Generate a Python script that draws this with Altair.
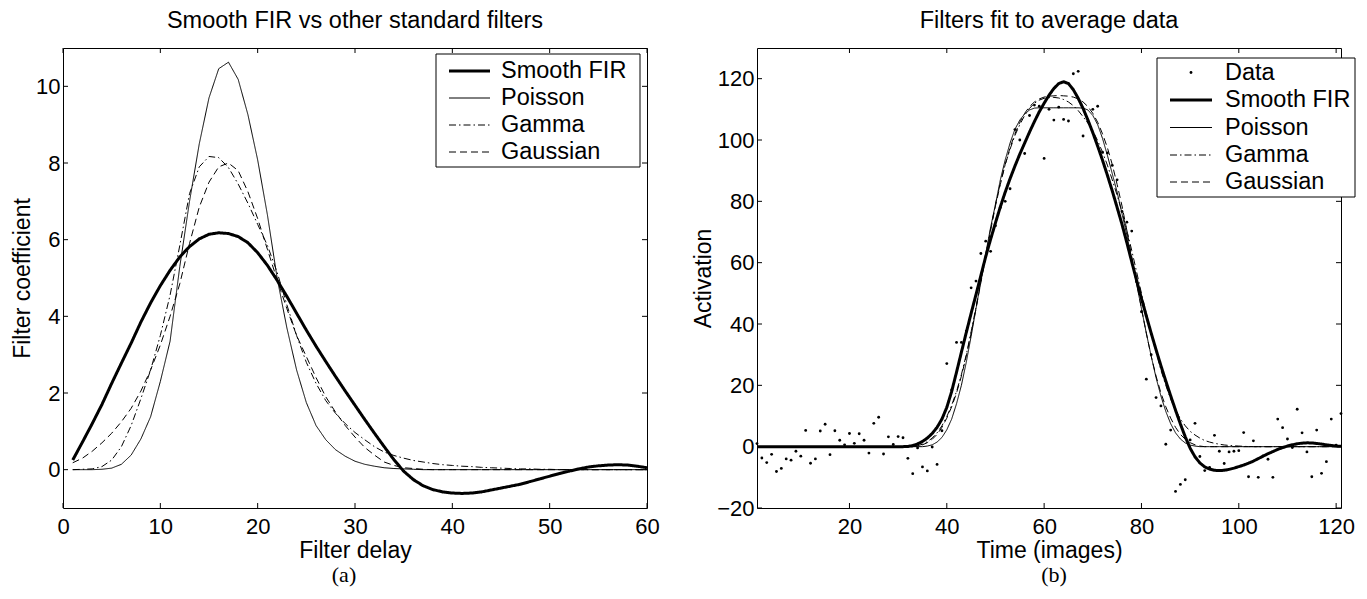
import altair as alt
import pandas as pd

# ---------------- Panel (a): filter shapes ----------------
delay = list(range(1, 61))
fir_a = [0.25, 0.72, 1.2, 1.7, 2.25, 2.78, 3.3, 3.85, 4.35, 4.8,
         5.2, 5.55, 5.82, 6.02, 6.14, 6.18, 6.16, 6.08, 5.92, 5.66,
         5.33, 4.94, 4.52, 4.08, 3.64, 3.22, 2.82, 2.43, 2.05, 1.68,
         1.31, 0.95, 0.6, 0.26, -0.04, -0.26, -0.42, -0.52, -0.58, -0.61,
         -0.62, -0.61, -0.58, -0.53, -0.48, -0.43, -0.38, -0.31, -0.24, -0.17,
         -0.1, -0.04, 0.02, 0.07, 0.1, 0.12, 0.13, 0.12, 0.09, 0.05]
poisson_a = [0, 0, 0, 0.01, 0.04, 0.14, 0.38, 0.8, 1.38, 2.3,
             3.35, 5.3, 7.0, 8.5, 9.7, 10.46, 10.63, 10.18, 9.26, 8.08,
             6.65, 5.0, 3.7, 2.6, 1.75, 1.15, 0.78, 0.52, 0.35, 0.22,
             0.14, 0.09, 0.05, 0.03, 0.02, 0.01, 0, 0, 0, 0,
             0, 0, 0, 0, 0, 0, 0, 0, 0, 0,
             0, 0, 0, 0, 0, 0, 0, 0, 0, 0]
gamma_a = [0, 0.01, 0.02, 0.08, 0.25, 0.6, 1.15, 1.85, 2.6, 3.5,
           4.55, 5.85, 7.2, 7.9, 8.17, 8.14, 7.88, 7.45, 6.95, 6.4,
           5.85, 5.15, 4.3, 3.5, 2.8, 2.25, 1.8, 1.47, 1.2, 0.97,
           0.78, 0.6, 0.46, 0.37, 0.3, 0.24, 0.2, 0.16, 0.13, 0.11,
           0.09, 0.08, 0.06, 0.05, 0.04, 0.03, 0.02, 0.02, 0.01, 0.01,
           0, 0, 0, 0, 0, 0, 0, 0, 0, 0]
gauss_a = [0.18, 0.3, 0.48, 0.7, 0.95, 1.25, 1.6, 2.05, 2.6, 3.25,
           4.0, 4.85, 5.9, 6.85, 7.5, 7.9, 8.0, 7.8, 7.25, 6.55,
           5.75, 4.95, 4.2, 3.5, 2.95, 2.4, 1.9, 1.5, 1.15, 0.85,
           0.58, 0.38, 0.2, 0.11, 0.05, 0.03, 0.01, 0, 0, 0,
           0, 0, 0, 0, 0, 0, 0, 0, 0, 0,
           0, 0, 0, 0, 0, 0, 0, 0, 0, 0]

# ---------------- Panel (b): fits to average data ----------------
time_b = list(range(1, 122))
data_b = [1.0, -3.7, -5.2, -2.5, -8.1, -7.1, -4.0, -4.4, -1.5, -3.1,
          5.3, -5.4, -4.0, 5.1, 7.3, -2.6, 5.2, 2.1, 0.6, 4.3,
          1.1, 4.2, 2.1, -2.1, 7.6, 9.6, -2.4, 3.2, 0.7, 3.3,
          2.9, -3.8, -8.8, -0.4, -6.6, -7.9, -0.1, -5.8, 5.2, 27.1,
          18.5, 34.0, 34.0, 37.7, 51.8, 54.0, 63.0, 67.0, 63.7, 72.0,
          78.0, 80.0, 84.1, 103.4, 100.0, 95.6, 108.0, 111.4, 111.0, 94.0,
          110.0, 106.5, 110.7, 106.7, 106.2, 121.6, 122.4, 101.3, 106.1, 110.0,
          111.0, 96.0, 95.8, 91.7, 87.0, 76.7, 73.2, 70.3, 53.8, 44.0,
          22.0, 30.0, 16.0, 13.3, 0.8, 5.4, -14.6, -12.3, -10.8, 2.2,
          7.6, -3.2, -7.8, -6.8, 3.7, -1.5, -5.5, -1.7, -1.5, -1.3,
          4.6, -9.8, 1.9, -10.0, -3.0, -4.1, -10.0, 9.0, 6.2, 2.5,
          -0.3, 12.2, 4.5, -1.7, -9.8, 5.4, -8.7, -4.9, 9.0, 0.5,
          10.8]
fir_b = [0] * 31 + [
    0.08, 0.35, 0.9, 1.7, 2.8, 4.3, 6.3, 9.0, 12.8, 18.0,
    24.3, 30.8, 37.2, 43.5, 49.6, 55.8, 62.0, 67.6, 73.0, 78.2,
    83.0, 87.4, 91.5, 95.4, 99.0, 102.6, 106.0, 109.2, 112.0, 114.6,
    116.8, 118.4, 119.0, 118.4, 116.4, 113.6, 110.3, 106.5, 102.4, 98.0,
    93.4, 88.5, 83.4, 78.0, 72.5, 66.5, 60.3, 54.2, 48.3, 42.6,
    37.0, 31.6, 26.4, 21.4, 16.6, 11.9, 7.4, 3.2, -0.5, -3.3,
    -5.3, -6.6, -7.3, -7.7, -7.8, -7.7, -7.4, -7.0, -6.5, -6.0,
    -5.4, -4.7, -3.9, -3.1, -2.3, -1.6, -0.9, -0.3, 0.2, 0.6,
    0.95, 1.15, 1.25, 1.2, 1.05, 0.85, 0.6, 0.4, 0.2, 0.1]
poisson_b = [0] * 35 + [
    0.2, 0.6, 1.5, 3.0, 5.5, 9.0, 14.0, 20.0, 27.5, 36.0,
    45.0, 54.0, 63.0, 71.5, 79.0, 87.0, 93.5, 99.0, 103.5, 106.5,
    108.5, 109.8, 110.4, 110.5, 110.5, 110.5, 110.5, 110.5, 110.5, 110.5,
    110.5, 110.5, 110.4, 109.8, 108.0, 105.0, 100.5, 95.0, 89.0, 83.0,
    76.0, 69.0, 61.0, 53.0, 45.0, 37.0, 29.5, 22.5, 16.5, 11.5,
    7.5, 4.5, 2.5, 1.2, 0.5, 0.2] + [0] * 30
gamma_b = [0] * 33 + [
    0.3, 0.8, 1.6, 2.8, 4.5, 6.8, 9.8, 13.5, 18.0, 23.5,
    30.0, 37.5, 45.5, 54.0, 62.5, 71.0, 79.0, 86.0, 92.0, 97.0,
    101.5, 105.0, 108.0, 110.3, 112.0, 113.0, 113.6, 113.8, 113.9, 113.7,
    113.2, 112.4, 111.2, 109.6, 107.6, 105.5, 103.0, 99.8, 96.0, 91.8,
    87.0, 82.0, 76.5, 70.5, 64.0, 57.0, 50.0, 43.5, 37.0, 31.0,
    25.0, 20.0, 15.5, 12.0, 9.0, 6.8, 5.0, 3.8, 2.8, 2.0,
    1.5, 1.1, 0.8, 0.55, 0.4, 0.28, 0.2, 0.1, 0.05] + [0] * 19
gauss_b = [0] * 33 + [
    0.2, 0.6, 1.3, 2.4, 4.0, 6.3, 9.3, 13.0, 17.5, 23.0,
    29.5, 37.0, 45.0, 53.5, 62.0, 70.5, 78.5, 85.5, 92.0, 97.5,
    102.0, 105.8, 108.7, 110.9, 112.4, 113.4, 114.0, 114.3, 114.4, 114.5,
    114.4, 114.3, 114.0, 113.4, 112.4, 110.9, 108.7, 105.8, 102.0, 97.5,
    92.0, 85.5, 78.5, 70.5, 62.0, 53.5, 45.0, 37.0, 29.5, 23.0,
    17.5, 13.0, 9.3, 6.3, 4.0, 2.4, 1.3, 0.6, 0.2] + [0] * 29

# tick values
xticks_a = [0, 10, 20, 30, 40, 50, 60]
yticks_a = [0, 2, 4, 6, 8, 10]
xticks_b = [20, 40, 60, 80, 100, 120]
yticks_b = [-20, 0, 20, 40, 60, 80, 100, 120]

series_a = ["Smooth FIR", "Poisson", "Gamma", "Gaussian"]
series_b = ["Data", "Smooth FIR", "Poisson", "Gamma", "Gaussian"]

# ---------------- styles ----------------
FONT = "Liberation Sans"
W, H = 584, 460
STYLE = {
    "Smooth FIR": dict(strokeWidth=3, strokeDash=[1, 0]),
    "Poisson": dict(strokeWidth=1, strokeDash=[1, 0]),
    "Gamma": dict(strokeWidth=1, strokeDash=[7, 3, 1.5, 3]),
    "Gaussian": dict(strokeWidth=1, strokeDash=[7, 4]),
}


def axis_x(values, title):
    return alt.Axis(values=values, ticks=False, tickSize=0, domain=False, grid=False,
                    labelFontSize=22, labelPadding=8, labelFlush=False, labelOverlap=False,
                    title=title, titleFontSize=23, titleFontWeight="normal", titlePadding=2,
                    labelFont=FONT, titleFont=FONT, labelColor="black", titleColor="black")


def axis_y(values, title):
    return alt.Axis(values=values, ticks=False, tickSize=0, domain=False, grid=False,
                    labelFontSize=22, labelPadding=3, labelFlush=False, labelOverlap=False,
                    title=title, titleFontSize=23, titleFontWeight="normal", titlePadding=1,
                    labelFont=FONT, titleFont=FONT, labelColor="black", titleColor="black")


def one_row(label=""):
    return pd.DataFrame({"label": [label]})


def panel(xs, ys, curves, dots, xt, yt, xtitle, ytitle, title,
          legend_names, box, sample_x, label_x, rows, caption, caption_x):
    xscale = alt.Scale(domain=xs, nice=False, zero=False)
    yscale = alt.Scale(domain=ys, nice=False, zero=False)
    X = alt.X("x:Q", scale=xscale, axis=axis_x(xt, xtitle))
    Y = alt.Y("y:Q", scale=yscale, axis=axis_y(yt, ytitle))
    layers = []
    # curves
    for name, xv, yv in curves:
        st = STYLE[name]
        layers.append(
            alt.Chart(pd.DataFrame({"x": xv, "y": yv}))
            .mark_line(color="black", strokeWidth=st["strokeWidth"],
                       strokeDash=st["strokeDash"], clip=True)
            .encode(x=X, y=Y)
        )
    if dots is not None:
        xv, yv = dots
        layers.append(
            alt.Chart(pd.DataFrame({"x": xv, "y": yv}))
            .mark_circle(color="black", size=8, opacity=1)
            .encode(x=X, y=Y)
        )
    # inward ticks on all four sides (same scales and axes as the curves)
    xt_df = pd.DataFrame({"x": xt})
    yt_df = pd.DataFrame({"y": yt})
    layers.append(alt.Chart(xt_df).mark_rule(color="black", strokeWidth=1)
                  .encode(x=X, y=alt.value(H), y2=alt.value(H - 5)))
    layers.append(alt.Chart(xt_df).mark_rule(color="black", strokeWidth=1)
                  .encode(x=X, y=alt.value(0), y2=alt.value(5)))
    layers.append(alt.Chart(yt_df).mark_rule(color="black", strokeWidth=1)
                  .encode(y=Y, x=alt.value(0), x2=alt.value(5)))
    layers.append(alt.Chart(yt_df).mark_rule(color="black", strokeWidth=1)
                  .encode(y=Y, x=alt.value(W - 5), x2=alt.value(W)))
    # legend box
    bx0, bx1, by0, by1 = box
    layers.append(alt.Chart(one_row()).mark_rect(fill="white", stroke="black", strokeWidth=1)
                  .encode(x=alt.value(bx0), x2=alt.value(bx1), y=alt.value(by0), y2=alt.value(by1)))
    for name, ry in zip(legend_names, rows):
        if name == "Data":
            layers.append(alt.Chart(one_row()).mark_circle(color="black", size=8, opacity=1)
                          .encode(x=alt.value((sample_x[0] + sample_x[1]) / 2), y=alt.value(ry)))
        else:
            st = STYLE[name]
            layers.append(alt.Chart(one_row()).mark_rule(color="black", strokeWidth=st["strokeWidth"],
                                                        strokeDash=st["strokeDash"])
                          .encode(x=alt.value(sample_x[0]), x2=alt.value(sample_x[1]), y=alt.value(ry)))
        layers.append(alt.Chart(one_row(name)).mark_text(align="left", baseline="middle", font=FONT,
                                                         fontSize=23.5, color="black")
                      .encode(x=alt.value(label_x), y=alt.value(ry), text="label:N"))
    # caption
    layers.append(alt.Chart(one_row(caption)).mark_text(align="center", baseline="middle",
                                                        font="Liberation Serif", fontSize=22, color="black")
                  .encode(x=alt.value(caption_x), y=alt.value(H + 67), text="label:N"))
    return alt.layer(*layers).properties(
        width=W, height=H,
        title=alt.TitleParams(title, anchor="middle", offset=-4, baseline="alphabetic",
                              font=FONT, fontSize=23.5, fontWeight="normal", color="black"),
    )


left = panel([0, 60], [-1, 11],
             [("Smooth FIR", delay, fir_a), ("Poisson", delay, poisson_a),
              ("Gamma", delay, gamma_a), ("Gaussian", delay, gauss_a)],
             None, xticks_a, yticks_a, "Filter delay", "Filter coefficient",
             "Smooth FIR vs other standard filters",
             series_a, (373, 577, 6, 119), (386, 427), 438, [23, 50, 77, 104], "(a)", 281)

right = panel([1, 121], [-20, 130],
              [("Smooth FIR", time_b, fir_b), ("Poisson", time_b, poisson_b),
               ("Gamma", time_b, gamma_b), ("Gaussian", time_b, gauss_b)],
              (time_b, data_b), xticks_b, yticks_b, "Time (images)", "Activation",
              "Filters fit to average data",
              series_b, (400, 598, 10, 149), (413, 455), 468, [24.5, 52, 79.5, 107, 134], "(b)", 297)

chart = alt.HConcatChart(hconcat=[left, right], spacing=110, bounds="flush").properties(
    padding={"left": 3, "top": 0, "right": 0, "bottom": 0},
    autosize=alt.AutoSizeParams(type="pad"),
    background="white",
).configure_view(stroke="black", strokeWidth=1)

chart.save("out.html", embed_options={"renderer": "svg", "actions": False})
